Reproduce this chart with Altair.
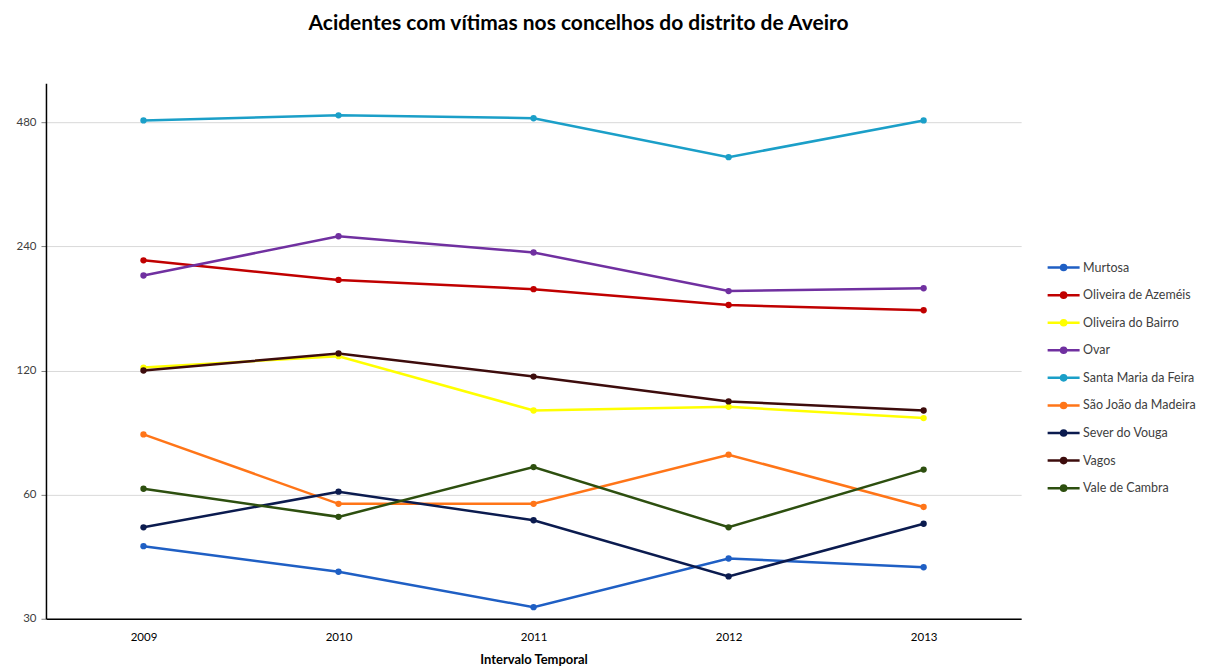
import altair as alt
import pandas as pd

years = ["2009", "2010", "2011", "2012", "2013"]
concelhos = [
    "Murtosa", "Oliveira de Azeméis", "Oliveira do Bairro", "Ovar",
    "Santa Maria da Feira", "São João da Madeira", "Sever do Vouga",
    "Vagos", "Vale de Cambra",
]
murtosa = [45, 39, 32, 42, 40]
oliveira_azemeis = [222, 199, 189, 173, 168]
oliveira_bairro = [122, 130, 96, 98, 92]
ovar = [204, 254, 232, 187, 190]
santa_maria_feira = [485, 499, 491, 395, 485]
sao_joao_madeira = [84, 57, 57, 75, 56]
sever_vouga = [50, 61, 52, 38, 51]
vagos = [120, 132, 116, 101, 96]
vale_cambra = [62, 53, 70, 50, 69]
y_ticks = [30, 60, 120, 240, 480]

series = [murtosa, oliveira_azemeis, oliveira_bairro, ovar, santa_maria_feira,
          sao_joao_madeira, sever_vouga, vagos, vale_cambra]
colors = ["#1f5fc4", "#c00000", "#ffff00", "#7030a0", "#1b9fc8",
          "#ff7518", "#0b1b4f", "#3d0c0c", "#2d4f0f"]

rows = []
for name, vals in zip(concelhos, series):
    for yr, v in zip(years, vals):
        rows.append({"Ano": yr, "Concelho": name, "Valor": v})
df = pd.DataFrame(rows)

legend_path = ("M-1,0L1,0M-0.16,0A0.16,0.16,0,1,1,0.16,0"
               "A0.16,0.16,0,1,1,-0.16,0Z")

x_enc = alt.X("Ano:O", sort=years,
              scale=alt.Scale(type="point", padding=0.5),
              axis=alt.Axis(title="Intervalo Temporal", labelAngle=0,
                            ticks=False, grid=False, domainColor="#000000",
                            domainWidth=1.5, labelColor="#000000",
                            labelFontSize=11.5, labelPadding=13,
                            titleFontSize=13, titleFontWeight="bold",
                            titlePadding=10, titleColor="#000000"))
y_enc = alt.Y("Valor:Q",
              scale=alt.Scale(type="log", base=2, domain=[30, 597], nice=False),
              axis=alt.Axis(title=None, values=y_ticks, format="d",
                            grid=True, gridColor="#d9d9d9", gridWidth=1,
                            domainColor="#000000", domainWidth=1.5,
                            tickColor="#808080", tickSize=5,
                            labelColor="#404040", labelFontSize=11.5,
                            labelPadding=5))
color_scale = alt.Scale(domain=concelhos, range=colors)

lines = alt.Chart(df).mark_line(strokeWidth=2.5).encode(
    x=x_enc, y=y_enc,
    color=alt.Color("Concelho:N", scale=color_scale,
                    legend=alt.Legend(title=None, orient="none",
                                      legendX=1001, legendY=167,
                                      symbolType=legend_path, symbolSize=1024,
                                      symbolStrokeWidth=2.5, rowPadding=1.6,
                                      padding=0, labelFontSize=12.5,
                                      labelColor="#404040", labelOffset=2,
                                      labelLimit=200)),
    order=alt.Order("Ano:O"),
)
points = alt.Chart(df).mark_circle(size=40, opacity=1).encode(
    x=x_enc, y=y_enc,
    color=alt.Color("Concelho:N", scale=color_scale, legend=None),
)

chart = alt.layer(lines, points).properties(
    width=976, height=536,
    autosize=alt.AutoSizeParams(type="none"),
    padding={"left": 38, "top": 75, "right": 180, "bottom": 50},
    title=alt.TitleParams("Acidentes com vítimas nos concelhos do distrito de Aveiro",
                          fontSize=21, fontWeight="bold", color="#000000",
                          anchor="middle", offset=49, dx=45),
).configure(font="Lato").configure_view(stroke=None)

chart.save("out.html", embed_options={"renderer": "svg", "actions": False})
